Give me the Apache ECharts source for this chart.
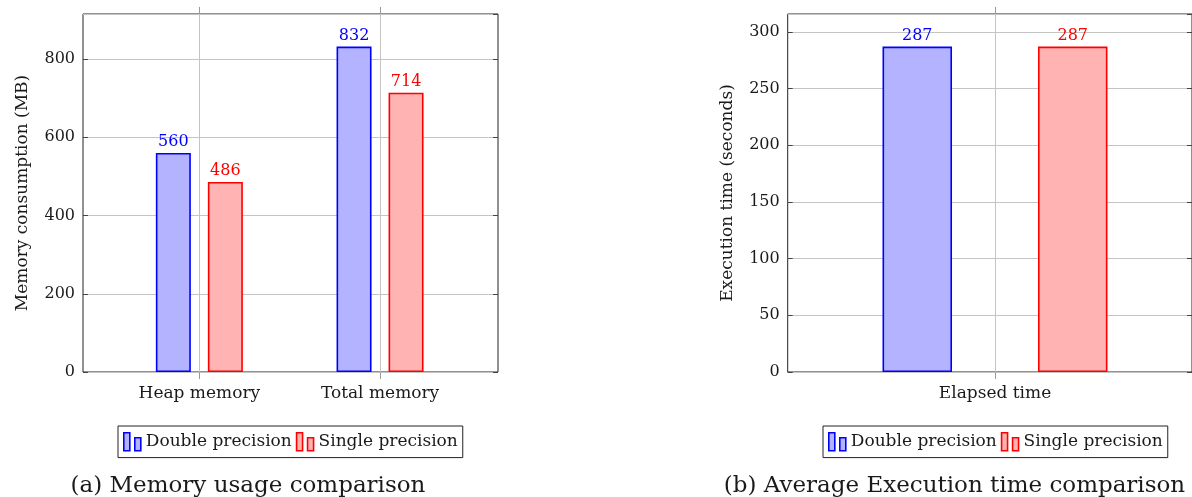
<!DOCTYPE html>
<html>
<head>
<meta charset="utf-8">
<script src="https://cdn.jsdelivr.net/npm/echarts@6/dist/echarts.min.js"></script>
<style>
  html, body { margin: 0; padding: 0; background: #ffffff; }
  #chart { width: 1192px; height: 497px; }
</style>
</head>
<body>
<div id="chart"></div>
<script>
// ---- data ----
const memCategories = ['Heap memory', 'Total memory'];
const memDouble = [560, 832];
const memSingle = [486, 714];
const memAxisMax = 915.2;
const memTickStep = 200;

const timeCategories = ['Elapsed time'];
const timeDouble = [287];
const timeSingle = [287];
const timeAxisMax = 315.7;
const timeTickStep = 50;

const seriesNames = ['Double precision', 'Single precision'];
const captions = ['(a) Memory usage comparison', '(b) Average Execution time comparison'];
const yTitles = ['Memory consumption (MB)', 'Execution time (seconds)'];

// ---- style ----
const FONT = 'DejaVu Serif';
const TXT = '#1a1a1a';
const GRIDC = '#c4c4c4';
const BLUE = '#0000ff', BLUE_FILL = '#b3b3ff';
const RED = '#ff0000', RED_FILL = '#ffb3b3';
const ICON = 'path://M0,0H6V18H0Z M11,5H17V18H11Z';

function boxX(gi) { return { gridIndex: gi, type: 'category', data: [''], show: false }; }
function catX(gi, cats) {
  return {
    gridIndex: gi, type: 'category', data: cats,
    axisLine: { show: false },
    axisTick: { show: true, length: 7, alignWithLabel: true, lineStyle: { color: '#999', width: 1 } },
    axisLabel: { margin: 13, fontSize: 17, fontFamily: FONT, color: TXT },
    splitLine: { show: true, alignWithLabel: true, interval: 0, lineStyle: { color: GRIDC, width: 1 } }
  };
}
function topX(gi, cats) {
  return {
    gridIndex: gi, type: 'category', data: cats, position: 'top',
    axisLine: { show: false },
    axisTick: { show: true, length: 7, alignWithLabel: true, lineStyle: { color: '#999', width: 1 } },
    axisLabel: { show: false }, splitLine: { show: false }
  };
}
function mainY(gi, max, step, name) {
  return {
    gridIndex: gi, type: 'value', min: 0, max: max, interval: step,
    axisLine: { show: false },
    axisTick: { show: true, inside: true, length: 5, lineStyle: { color: '#444' } },
    axisLabel: { margin: 8, fontSize: 16, fontFamily: FONT, color: TXT, showMaxLabel: false },
    splitLine: { show: true, lineStyle: { color: GRIDC, width: 1 } },
    name: name, nameLocation: 'middle', nameGap: 52,
    nameTextStyle: { fontSize: 17, fontFamily: FONT, color: TXT }
  };
}
function rightY(gi, max, step) {
  return {
    gridIndex: gi, type: 'value', min: 0, max: max, interval: step, position: 'right',
    axisLine: { show: false },
    axisTick: { show: true, inside: true, length: 5, lineStyle: { color: '#444' } },
    axisLabel: { show: false }, splitLine: { show: false }
  };
}
function hiddenY(gi, max) { return { gridIndex: gi, type: 'value', min: 0, max: max, show: false }; }

function barSeries(name, xi, yi, data, w, gap, stroke, fill) {
  return {
    type: 'bar', name: name, xAxisIndex: xi, yAxisIndex: yi, data: data,
    barWidth: w, barGap: gap, clip: false,
    itemStyle: { color: fill, borderColor: stroke, borderWidth: 1.6 },
    label: { show: true, position: 'top', distance: 3, color: stroke, fontSize: 16, fontFamily: FONT },
    emphasis: { disabled: true }
  };
}
function legendAt(left) {
  return {
    left: left, top: 426, orient: 'horizontal',
    itemWidth: 17, itemHeight: 18, itemGap: 4,
    padding: [6, 5, 6, 5],
    borderColor: '#222', borderWidth: 1,
    selectedMode: false,
    textStyle: { fontSize: 17, fontFamily: FONT, color: TXT },
    data: [
      { name: seriesNames[0], icon: ICON, itemStyle: { color: BLUE_FILL, borderColor: BLUE, borderWidth: 1.6 } },
      { name: seriesNames[1], icon: ICON, itemStyle: { color: RED_FILL, borderColor: RED, borderWidth: 1.6 } }
    ]
  };
}
function captionAt(text, cx) {
  return {
    text: text, left: cx, top: 470, textAlign: 'center',
    textStyle: { fontSize: 23, fontWeight: 'normal', fontFamily: FONT, color: TXT }
  };
}

const chart = echarts.init(document.getElementById('chart'), null, { renderer: 'canvas' });
chart.setOption({
  animation: false,
  backgroundColor: '#ffffff',
  title: [captionAt(captions[0], 243), captionAt(captions[1], 949.5)],
  legend: [legendAt(118), legendAt(823)],
  grid: [
    { left: 83, top: 14, width: 415, height: 358, show: true, borderColor: '#222', borderWidth: 1, backgroundColor: 'transparent' },
    { left: 109, top: 14, width: 361.4, height: 358 },
    { left: 787.7, top: 14, width: 414.6, height: 358, show: true, borderColor: '#222', borderWidth: 1, backgroundColor: 'transparent' },
    { left: 895, top: 14, width: 200, height: 358 }
  ],
  xAxis: [
    boxX(0), catX(1, memCategories), topX(1, memCategories),
    boxX(2), catX(3, timeCategories), topX(3, timeCategories)
  ],
  yAxis: [
    mainY(0, memAxisMax, memTickStep, yTitles[0]), rightY(0, memAxisMax, memTickStep), hiddenY(1, memAxisMax),
    mainY(2, timeAxisMax, timeTickStep, yTitles[1]), rightY(2, timeAxisMax, timeTickStep), hiddenY(3, timeAxisMax)
  ],
  series: [
    barSeries(seriesNames[0], 1, 2, memDouble, 35, '48.6%', BLUE, BLUE_FILL),
    barSeries(seriesNames[1], 1, 2, memSingle, 35, '48.6%', RED, RED_FILL),
    barSeries(seriesNames[0], 4, 5, timeDouble, 69.5, '123.7%', BLUE, BLUE_FILL),
    barSeries(seriesNames[1], 4, 5, timeSingle, 69.5, '123.7%', RED, RED_FILL)
  ]
});
</script>
</body>
</html>
